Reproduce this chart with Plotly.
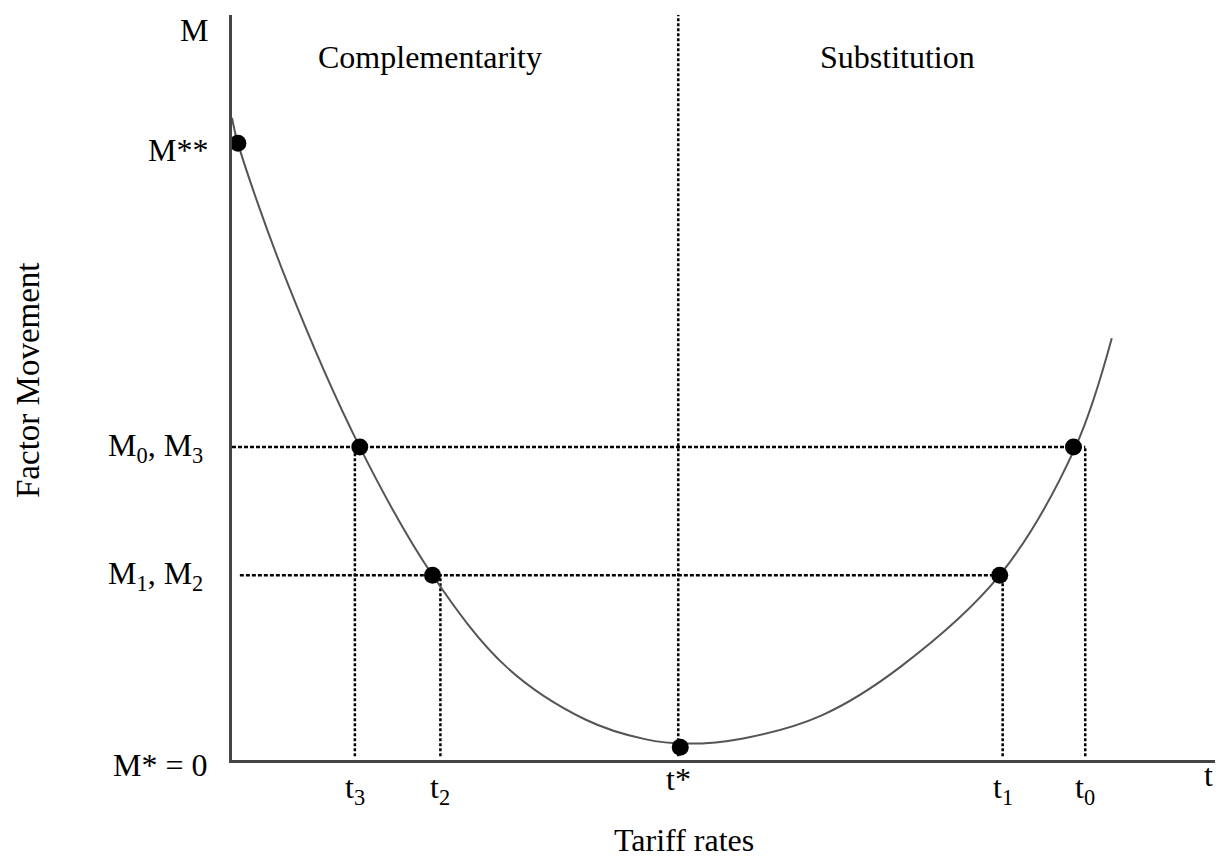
import plotly.graph_objects as go

# ---- data (axis units: t 0..10, M 0..10) ----
curve_t = [0.0, 0.06, 0.55, 1.30, 2.04, 2.80, 3.60, 4.20, 4.62, 5.20, 6.00, 6.80,
           7.81, 8.58, 8.95]
curve_M = [8.62, 8.28, 6.45, 4.20, 2.48, 1.24, 0.54, 0.28, 0.22, 0.29, 0.60, 1.25,
           2.48, 4.20, 5.66]

point_t = [0.06, 1.30, 2.04, 4.56, 7.81, 8.56]
point_M = [8.28, 4.20, 2.48, 0.17, 2.48, 4.20]

tick_t = [1.25, 2.12, 4.54, 7.84, 8.68]
tick_labels = ["t<sub>3</sub>", "t<sub>2</sub>", "t*", "t<sub>1</sub>", "t<sub>0</sub>"]
tick_top = [4.20, 2.48, 10.0, 2.48, 4.20]

level_M = [4.20, 2.48]
level_end_t = [8.68, 7.84]
level_start_t = [0.0, 0.08]
level_labels = ["M<sub>0</sub>, M<sub>3</sub>", "M<sub>1</sub>, M<sub>2</sub>"]

m_labels = ["M", "M**", "M* = 0"]
m_label_y = [9.80, 8.19, -0.07]

regions = ["Complementarity", "Substitution"]
region_t = [2.01, 6.77]

T_MAX, M_MAX = 10.0, 10.0
FONT = "Liberation Serif"
fig = go.Figure()

# guide lines
for t0, top in zip(tick_t, tick_top):
    fig.add_trace(go.Scatter(x=[t0, t0], y=[0.05, top], mode="lines",
                             line=dict(color="black", width=2.5, dash="3px,2px"),
                             hoverinfo="skip", showlegend=False))
for m, a, b in zip(level_M, level_start_t, level_end_t):
    fig.add_trace(go.Scatter(x=[a, b], y=[m, m], mode="lines",
                             line=dict(color="black", width=2.5, dash="4px,2px"),
                             hoverinfo="skip", showlegend=False))

# curve
fig.add_trace(go.Scatter(x=curve_t, y=curve_M, mode="lines", line_shape="spline",
                         line=dict(color="#555555", width=2, smoothing=1.0),
                         showlegend=False))
# points
fig.add_trace(go.Scatter(x=point_t, y=point_M, mode="markers",
                         marker=dict(color="black", size=17), showlegend=False))


def px(t):
    return t / T_MAX


def py(m):
    return m / M_MAX


ann = []
for t0, lab in zip(tick_t, tick_labels):
    ann.append(dict(x=px(t0), y=py(-0.40 if lab != "t*" else -0.25), text=lab,
                    showarrow=False, xanchor="center", yanchor="middle",
                    font=dict(size=32)))
ann.append(dict(x=px(10.0), y=py(-0.2), text="t", showarrow=False, xanchor="right",
                yanchor="middle", font=dict(size=32)))
for m, lab in zip(level_M, level_labels):
    ann.append(dict(x=px(-0.27), y=py(m), text=lab, showarrow=False, xanchor="right",
                    yanchor="middle", font=dict(size=32)))
for lab, y in zip(m_labels, m_label_y):
    ann.append(dict(x=px(-0.22), y=py(y), text=lab, showarrow=False, xanchor="right",
                    yanchor="middle", font=dict(size=32)))
for lab, t0 in zip(regions, region_t):
    ann.append(dict(x=px(t0), y=py(9.44), text=lab, showarrow=False, xanchor="center",
                    yanchor="middle", font=dict(size=32)))
ann.append(dict(x=(684 - 232) / 983, y=-(840 - 760) / 745,
                text="Tariff rates", showarrow=False, xanchor="center", yanchor="middle",
                font=dict(size=32)))
ann.append(dict(x=-(232 - 28) / 983, y=(760 - 380) / 745,
                text="Factor Movement", showarrow=False, textangle=-90,
                xanchor="center", yanchor="middle", font=dict(size=33)))
for a in ann:
    a["xref"] = "paper"
    a["yref"] = "paper"

fig.update_layout(
    width=1230, height=859,
    margin=dict(l=224, r=23, t=7, b=107),
    paper_bgcolor="white", plot_bgcolor="white",
    font=dict(family=FONT, color="black"),
    annotations=ann,
    xaxis=dict(range=[0, T_MAX], showgrid=False, zeroline=False, showticklabels=False,
               ticks="", showline=True, linecolor="#444444", linewidth=3, fixedrange=True),
    yaxis=dict(range=[0, M_MAX], showgrid=False, zeroline=False, showticklabels=False,
               ticks="", showline=True, linecolor="#444444", linewidth=3, fixedrange=True),
)

fig.write_html("out.html")
